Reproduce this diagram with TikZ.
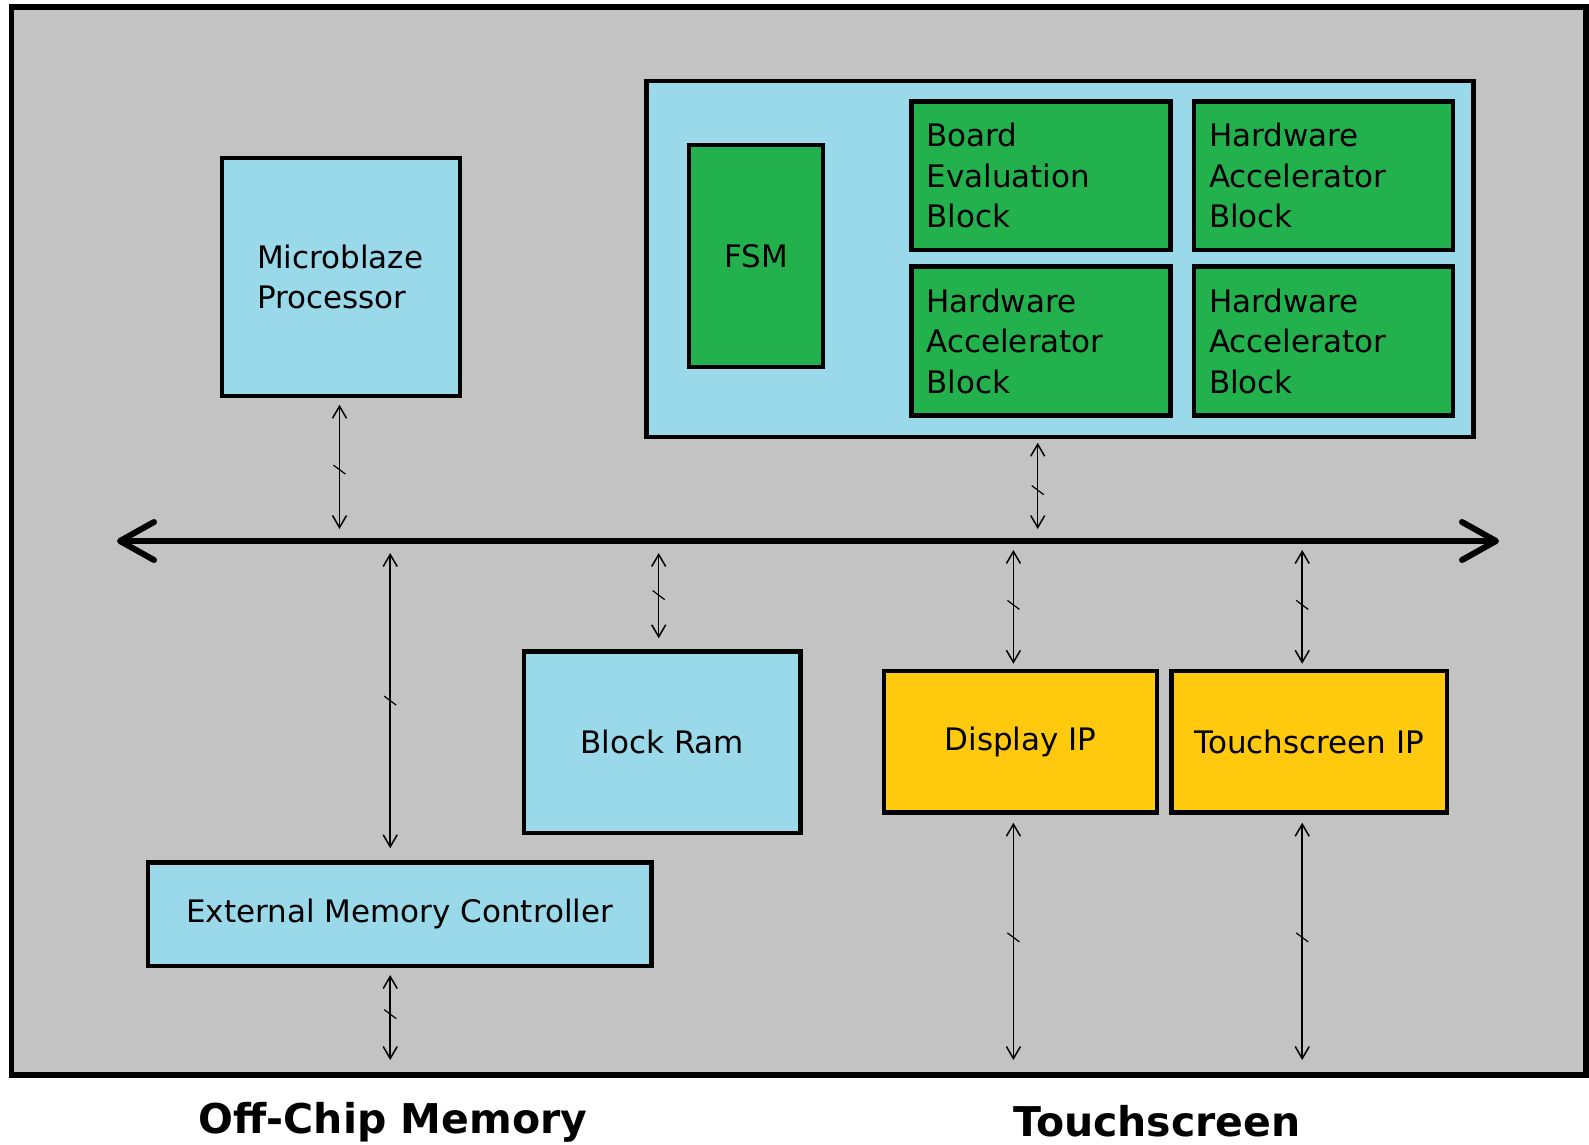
\documentclass[tikz,border=0pt]{standalone}
\usepackage{fontspec}
\setmainfont{DejaVu Sans}
\usetikzlibrary{arrows.meta,decorations.markings}
\definecolor{bggray}{HTML}{C3C3C3}
\definecolor{ltcyan}{HTML}{99D9EA}
\definecolor{blkgreen}{HTML}{22B14C}
\definecolor{ipgold}{HTML}{FFC90E}
\begin{document}
\begin{tikzpicture}[x=1pt,y=-1pt,
  box/.style={draw=black, line width=4.5pt, inner sep=0pt, align=center,
    font=\fontsize{31}{40.5}\selectfont},
  cyanbox/.style={box, fill=ltcyan},
  greenbox/.style={box, fill=blkgreen},
  goldbox/.style={box, fill=ipgold},
  leftbox/.style={align=left, text width=#1},
  bi/.style={line width=1.5pt, {Straight Barb[length=12pt,width=14pt]}-{Straight Barb[length=12pt,width=14pt]},
    postaction={decorate, decoration={markings,
      mark=at position 0.5 with {\draw[line width=1.2pt, -, shorten <=0pt, shorten >=0pt] (-4.5pt,-6pt) -- (4.5pt,6pt);}}}},
  busline/.style={line width=6pt, line cap=round,
    {Straight Barb[length=34pt,width=38pt,line cap=round,line join=round]}-{Straight Barb[length=34pt,width=38pt,line cap=round,line join=round]}},
  bottomlabel/.style={font=\fontsize{41}{49}\selectfont\bfseries, anchor=base, inner sep=0pt}
]
\useasboundingbox (0,0) rectangle (1589,1144);
\fill[white] (0,0) rectangle (1589,1144);
\draw[line width=5.5pt, fill=bggray] (11.5,7) rectangle (1586,1075);

% upper blocks
\node[cyanbox, minimum width=238pt, minimum height=238pt, leftbox=168pt] (mb) at (341,277) {Microblaze\\Processor\\[-3pt]};
\node[cyanbox, minimum width=827pt, minimum height=356pt] (acc) at (1060,259) {};
\node[greenbox, minimum width=134pt, minimum height=222pt] (fsm) at (756,256) {FSM};
\node[greenbox, minimum width=259pt, minimum height=148.5pt, leftbox=229pt] (be) at (1041,175.75) {Board\\Evaluation\\Block};
\node[greenbox, minimum width=259pt, minimum height=148.5pt, leftbox=229pt] (hw1) at (1323.5,175.75) {Hardware\\Accelerator\\Block};
\node[greenbox, minimum width=259pt, minimum height=149pt, leftbox=229pt] (hw2) at (1041,341) {Hardware\\Accelerator\\Block};
\node[greenbox, minimum width=259pt, minimum height=149pt, leftbox=229pt] (hw3) at (1323.5,341) {Hardware\\Accelerator\\Block};

% lower blocks
\node[cyanbox, minimum width=276.5pt, minimum height=181.5pt] (bram) at (662.25,742.25) {Block Ram};
\node[goldbox, minimum width=273pt, minimum height=141.5pt] (disp) at (1020.5,741.75) {Display IP};
\node[goldbox, minimum width=275.5pt, minimum height=141.5pt] (touch) at (1309.25,741.75) {Touchscreen IP};
\node[cyanbox, minimum width=503.5pt, minimum height=103.5pt] (ext) at (399.75,914.25) {External Memory Controller};

% bus
\coordinate (busL) at (117,541);
\coordinate (busR) at (1499,541);
\draw[busline] (busL) -- (busR);
\coordinate (j1) at (339.5,541);
\coordinate (j2) at (1037.7,541);
\coordinate (j3) at (390.2,541);
\coordinate (j4) at (658.7,541);
\coordinate (j5) at (1013.4,541);
\coordinate (j6) at (1302.2,541);
\coordinate (offchip) at (390.2,1060);
\coordinate (dispout) at (1013.4,1060);
\coordinate (touchout) at (1302.2,1060);

% connectors
\draw[bi, shorten <=6.5pt, shorten >=12pt] (mb.south -| j1) -- (j1);
\draw[bi, shorten <=3.5pt, shorten >=12pt] (acc.south -| j2) -- (j2);
\draw[bi, shorten <=12pt, shorten >=12pt] (j3) -- (ext.north -| j3);
\draw[bi, shorten <=12pt, shorten >=11pt] (j4) -- (bram.north -| j4);
\draw[bi, shorten <=9pt, shorten >=5pt] (j5) -- (disp.north -| j5);
\draw[bi, shorten <=9pt, shorten >=5pt] (j6) -- (touch.north -| j6);
\draw[bi, shorten <=6.75pt] (ext.south -| j3) -- (offchip);
\draw[bi, shorten <=8pt] (disp.south -| j5) -- (dispout);
\draw[bi, shorten <=8pt] (touch.south -| j6) -- (touchout);

% bottom labels
\node[bottomlabel] (offlbl) at (393,1133) {Off-Chip Memory};
\node[bottomlabel] (tslbl) at (1157,1136) {Touchscreen};
\end{tikzpicture}
\end{document}
